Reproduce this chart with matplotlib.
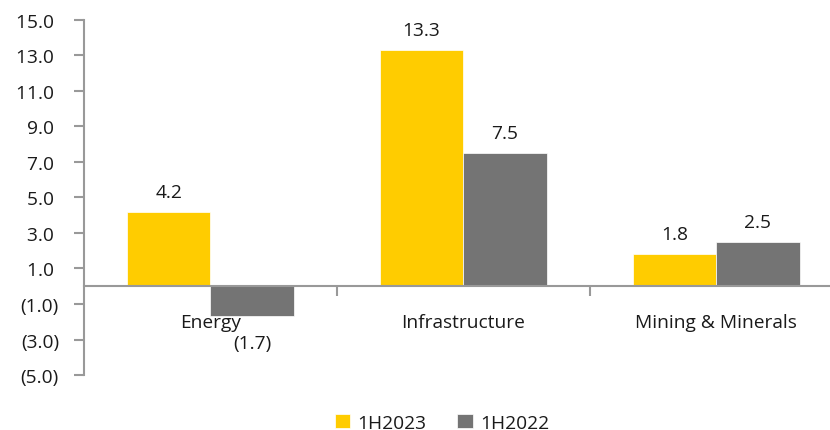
import numpy as np
import matplotlib.pyplot as plt
from matplotlib.ticker import FuncFormatter

plt.rcParams['font.family'] = ['Open Sans', 'DejaVu Sans']

sectors = ['Energy', 'Infrastructure', 'Mining & Minerals']
h1_2023 = [4.2, 13.3, 1.8]
h1_2022 = [-1.7, 7.5, 2.5]
series = ['1H2023', '1H2022']
colors = ['#FFCC00', '#747474']


def fmt(v):
    # accounting style: negatives in brackets
    return '(%.1f)' % abs(v) if v < 0 else '%.1f' % v


def tick_fmt(v, pos):
    # trailing space keeps the digits aligned with the bracketed values
    return fmt(v) if v < 0 else fmt(v) + ' '


fig = plt.figure(figsize=(8.3, 4.31), dpi=100)
ax = fig.add_axes([0.1012, 0.1276, 0.8988, 0.8237])

x = np.arange(len(sectors))
w = 0.33
fs = 13.8

for k, vals in enumerate([h1_2023, h1_2022]):
    pos = x + (k - 0.5) * w
    ax.bar(pos, vals, w, color=colors[k], label=series[k], zorder=1,
           edgecolor='white', linewidth=0.5)
    for px, v in zip(pos, vals):
        if v >= 0:
            ax.annotate(fmt(v), (px, v), xytext=(0, 8), textcoords='offset points',
                        ha='center', va='bottom', fontsize=fs, color='#1a1a1a')
        else:
            ax.annotate(fmt(v), (px, v), xytext=(0, -13), textcoords='offset points',
                        ha='center', va='top', fontsize=fs, color='#1a1a1a')

ax.set_ylim(-5, 15)
ax.set_xlim(-0.5, 2.45)
ax.set_yticks(np.arange(-5, 16, 2))
ax.yaxis.set_major_formatter(FuncFormatter(tick_fmt))

for s in ['top', 'right']:
    ax.spines[s].set_visible(False)
ax.spines['bottom'].set_position(('data', 0))
for s in ['left', 'bottom']:
    ax.spines[s].set_color('#999999')
    ax.spines[s].set_linewidth(1.5)

ax.set_xticks([0.5, 1.5])
ax.set_xticklabels([])
ax.set_xticks(x, minor=True)
ax.set_xticklabels(sectors, minor=True)
ax.tick_params(axis='x', which='major', direction='out', length=7, width=1.5, color='#999999')
ax.tick_params(axis='x', which='minor', length=0, pad=19, labelsize=fs, labelcolor='#1a1a1a')
ax.tick_params(axis='y', direction='out', length=7, width=1.5, color='#999999',
               labelsize=fs, labelcolor='#1a1a1a', pad=11)
ax.set_axisbelow(True)

ax.legend(loc='upper center', bbox_to_anchor=(0.48, -0.06), ncol=2, frameon=False,
          fontsize=fs, handlelength=0.8, handleheight=0.8, handletextpad=0.4,
          columnspacing=1.6, labelcolor='#1a1a1a')

fig.savefig('out.png', dpi=100)
